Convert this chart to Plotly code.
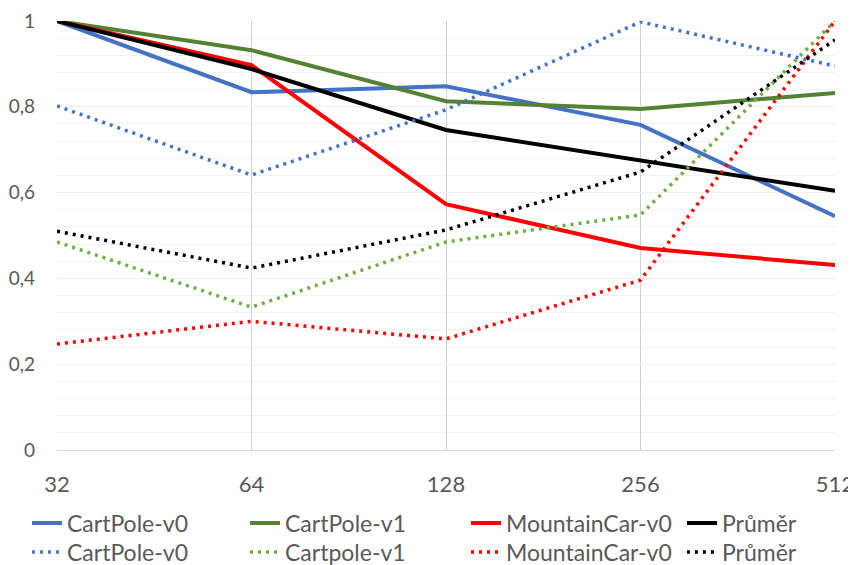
"""Relative performance by batch size - recreated line chart."""

import plotly.graph_objects as go

# batch sizes (categorical x axis)
BATCH = ['32', '64', '128', '256', '512']

# solid series
cartpole_v0 = [1.0, 0.834, 0.848, 0.758, 0.545]
cartpole_v1 = [1.0, 0.932, 0.813, 0.795, 0.832]
mountaincar_v0 = [1.0, 0.897, 0.573, 0.471, 0.431]
prumer = [1.0, 0.888, 0.746, 0.676, 0.604]

# dotted series
cartpole_v0_dot = [0.802, 0.641, 0.793, 0.998, 0.895]
cartpole_v1_dot = [0.485, 0.333, 0.485, 0.548, 1.0]
mountaincar_v0_dot = [0.247, 0.300, 0.259, 0.396, 1.0]
prumer_dot = [0.510, 0.424, 0.513, 0.648, 0.956]

BLUE = '#4472C4'
GREEN = '#548235'
LIGHT_GREEN = '#70AD47'
RED = '#FF0000'
BLACK = '#000000'
TEXT = '#595959'
FONT = 'Lato, sans-serif'

# the page body adds an 8px margin, so every target position (page pixels)
# is shifted by that amount; the figure stays wide enough for the "512" label
OFF = 8
W, H = 856, 565 - OFF
PL, PR, PT, PB = 57 - OFF, 835 - OFF, 21 - OFF, 450 - OFF
PW, PH = PR - PL, PB - PT

solid = [
    ('CartPole-v0', cartpole_v0, BLUE),
    ('CartPole-v1', cartpole_v1, GREEN),
    ('MountainCar-v0', mountaincar_v0, RED),
    ('Průměr', prumer, BLACK),
]
dotted = [
    ('CartPole-v0', cartpole_v0_dot, BLUE),
    ('Cartpole-v1', cartpole_v1_dot, LIGHT_GREEN),
    ('MountainCar-v0', mountaincar_v0_dot, RED),
    ('Průměr', prumer_dot, BLACK),
]

# one legend per entry so the two rows line up in four columns
col_px = [27 - OFF, 245 - OFF, 466 - OFF, 682 - OFF]
row_px = [523 - OFF, 552 - OFF]

fig = go.Figure()
legends = {}
n = 0
for row, (group, style) in enumerate([(solid, 'solid'), (dotted, 'dot')]):
    for col, (name, vals, color) in enumerate(group):
        n += 1
        key = 'legend' if n == 1 else f'legend{n}'
        if style == 'solid':
            line = dict(color=color, width=4)
        else:
            line = dict(color=color, width=3.5, dash='3px,5px')
        fig.add_trace(go.Scatter(
            x=BATCH, y=vals, mode='lines', name=name,
            line=line, legend=key,
        ))
        legends[key] = dict(
            orientation='h',
            x=(col_px[col] - PL) / PW, xanchor='left',
            y=-(row_px[row] - PB) / PH, yanchor='middle',
            font=dict(family=FONT, size=23, color=TEXT),
            bgcolor='rgba(0,0,0,0)',
        )

fig.update_layout(
    width=W, height=H,
    margin=dict(l=PL, r=W - PR, t=PT, b=H - PB, autoexpand=False),
    paper_bgcolor='white',
    plot_bgcolor='white',
    separators=', ',
    font=dict(family=FONT, color=TEXT),
    showlegend=True,
    xaxis=dict(
        type='category',
        range=[0, 4],
        showgrid=True, gridcolor='#D0D0D0', gridwidth=1,
        showline=True, linecolor='#D9D9D9', linewidth=1,
        ticks='', tickfont=dict(family=FONT, size=22, color=TEXT),
        ticklabelstandoff=15,
        zeroline=False,
    ),
    yaxis=dict(
        range=[0, 1],
        tickmode='array',
        tickvals=[0, 0.2, 0.4, 0.6, 0.8, 1],
        ticktext=['0', '0,2', '0,4', '0,6', '0,8', '1'],
        showgrid=True, gridcolor='#EFEFEF', gridwidth=1,
        minor=dict(dtick=0.04, showgrid=True, gridcolor='#F2F2F2', gridwidth=1),
        ticks='', tickfont=dict(family=FONT, size=19, color=TEXT),
        ticklabelstandoff=21,
        zeroline=False, showline=False,
    ),
    **legends,
)

fig.write_html('out.html')
